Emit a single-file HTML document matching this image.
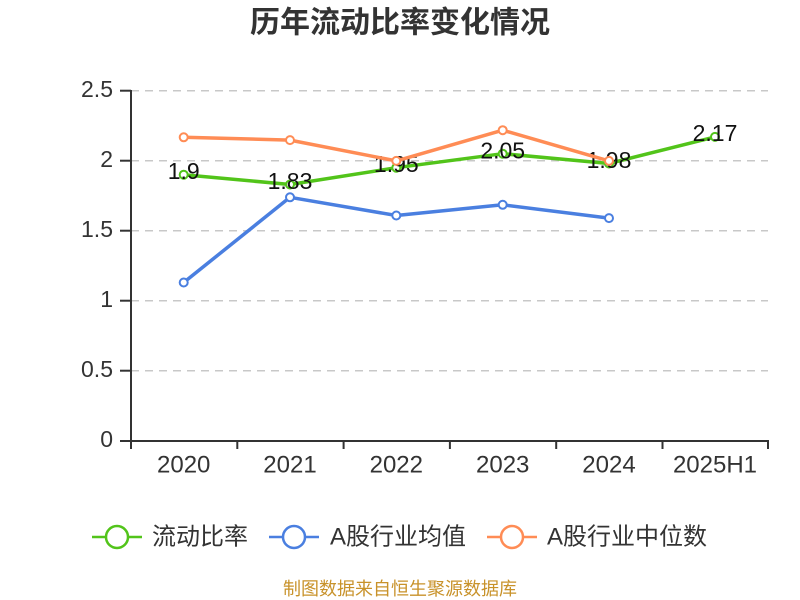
<!DOCTYPE html>
<html>
<head>
<meta charset="utf-8">
<style>
  html,body{margin:0;padding:0;background:#fff;}
  svg{display:block;}
  text{font-family:"Liberation Sans","Noto Sans CJK SC",sans-serif;}
</style>
</head>
<body>
<svg width="800" height="600" viewBox="0 0 800 600" xmlns="http://www.w3.org/2000/svg">
  <rect width="800" height="600" fill="#fff"/>
  <!-- Title -->
  <text x="400" y="23" text-anchor="middle" dominant-baseline="central" font-size="30" font-weight="bold" fill="#333">历年流动比率变化情况</text>

  <!-- Grid lines -->
  <g stroke="#c8c8c8" stroke-width="1.5" stroke-dasharray="8,6">
    <line x1="131" y1="90.7" x2="768" y2="90.7"/>
    <line x1="131" y1="160.7" x2="768" y2="160.7"/>
    <line x1="131" y1="230.7" x2="768" y2="230.7"/>
    <line x1="131" y1="300.7" x2="768" y2="300.7"/>
    <line x1="131" y1="370.7" x2="768" y2="370.7"/>
  </g>

  <!-- Axes -->
  <g stroke="#333" stroke-width="2">
    <line x1="131" y1="90" x2="131" y2="441.5"/>
    <line x1="130" y1="441" x2="769" y2="441"/>
    <!-- y ticks -->
    <line x1="120" y1="90.7" x2="131" y2="90.7"/>
    <line x1="120" y1="160.7" x2="131" y2="160.7"/>
    <line x1="120" y1="230.7" x2="131" y2="230.7"/>
    <line x1="120" y1="300.7" x2="131" y2="300.7"/>
    <line x1="120" y1="370.7" x2="131" y2="370.7"/>
    <line x1="120" y1="441" x2="131" y2="441"/>
    <!-- x ticks -->
    <line x1="131" y1="441" x2="131" y2="449"/>
    <line x1="237.3" y1="441" x2="237.3" y2="449"/>
    <line x1="343.6" y1="441" x2="343.6" y2="449"/>
    <line x1="449.9" y1="441" x2="449.9" y2="449"/>
    <line x1="556.2" y1="441" x2="556.2" y2="449"/>
    <line x1="662.5" y1="441" x2="662.5" y2="449"/>
    <line x1="768" y1="441" x2="768" y2="449"/>
  </g>

  <!-- Y labels -->
  <g font-size="23" fill="#333" text-anchor="end" dominant-baseline="central">
    <text x="113" y="89">2.5</text>
    <text x="113" y="159">2</text>
    <text x="113" y="229">1.5</text>
    <text x="113" y="299">1</text>
    <text x="113" y="369">0.5</text>
    <text x="113" y="439">0</text>
  </g>

  <!-- X labels -->
  <g font-size="24" fill="#333" text-anchor="middle" dominant-baseline="central">
    <text x="183.7" y="465">2020</text>
    <text x="290" y="465">2021</text>
    <text x="396.3" y="465">2022</text>
    <text x="502.7" y="465">2023</text>
    <text x="609" y="465">2024</text>
    <text x="715" y="465">2025H1</text>
  </g>

  <!-- Green series: 流动比率 -->
  <polyline fill="none" stroke="#52c41a" stroke-width="3.5" stroke-linejoin="round"
    points="183.7,174.7 290,184.5 396.3,167.7 502.7,153.7 609,163.5 715,136.9"/>
  <g fill="#fff" stroke="#52c41a" stroke-width="2">
    <circle cx="183.7" cy="174.7" r="4"/>
    <circle cx="290" cy="184.5" r="4"/>
    <circle cx="396.3" cy="167.7" r="4"/>
    <circle cx="502.7" cy="153.7" r="4"/>
    <circle cx="609" cy="163.5" r="4"/>
    <circle cx="715" cy="136.9" r="4"/>
  </g>
  <g font-size="23" fill="#111" text-anchor="middle" dominant-baseline="central">
    <text x="183.7" y="171">1.9</text>
    <text x="290" y="181">1.83</text>
    <text x="396.3" y="164">1.95</text>
    <text x="502.7" y="150.5">2.05</text>
    <text x="609" y="160">1.98</text>
    <text x="715" y="133">2.17</text>
  </g>

  <!-- Blue series: A股行业均值 -->
  <polyline fill="none" stroke="#4a7fe0" stroke-width="3.5" stroke-linejoin="round"
    points="183.7,282.5 290,197.3 396.3,215.5 502.7,204.8 609,218.1"/>
  <g fill="#fff" stroke="#4a7fe0" stroke-width="2">
    <circle cx="183.7" cy="282.5" r="4"/>
    <circle cx="290" cy="197.3" r="4"/>
    <circle cx="396.3" cy="215.5" r="4"/>
    <circle cx="502.7" cy="204.8" r="4"/>
    <circle cx="609" cy="218.1" r="4"/>
  </g>

  <!-- Orange series: A股行业中位数 -->
  <polyline fill="none" stroke="#ff8c55" stroke-width="3.5" stroke-linejoin="round"
    points="183.7,137.3 290,140.1 396.3,160.9 502.7,130.2 609,160.9"/>
  <g fill="#fff" stroke="#ff8c55" stroke-width="2">
    <circle cx="183.7" cy="137.3" r="4"/>
    <circle cx="290" cy="140.1" r="4"/>
    <circle cx="396.3" cy="160.9" r="4"/>
    <circle cx="502.7" cy="130.2" r="4"/>
    <circle cx="609" cy="160.9" r="4"/>
  </g>

  <!-- Legend -->
  <g stroke-width="2.5">
    <line x1="92" y1="537" x2="142" y2="537" stroke="#52c41a"/>
    <circle cx="117" cy="537" r="11" fill="#fff" stroke="#52c41a"/>
    <line x1="269" y1="537" x2="319" y2="537" stroke="#4a7fe0"/>
    <circle cx="294" cy="537" r="11" fill="#fff" stroke="#4a7fe0"/>
    <line x1="487" y1="537" x2="537" y2="537" stroke="#ff8c55"/>
    <circle cx="512" cy="537" r="11" fill="#fff" stroke="#ff8c55"/>
  </g>
  <g font-size="24" fill="#333" dominant-baseline="central">
    <text x="152" y="537">流动比率</text>
    <text x="330" y="537">A股行业均值</text>
    <text x="547" y="537">A股行业中位数</text>
  </g>

  <!-- Footer -->
  <text x="400" y="589" text-anchor="middle" dominant-baseline="central" font-size="18" fill="#c8922a">制图数据来自恒生聚源数据库</text>
</svg>
</body>
</html>
